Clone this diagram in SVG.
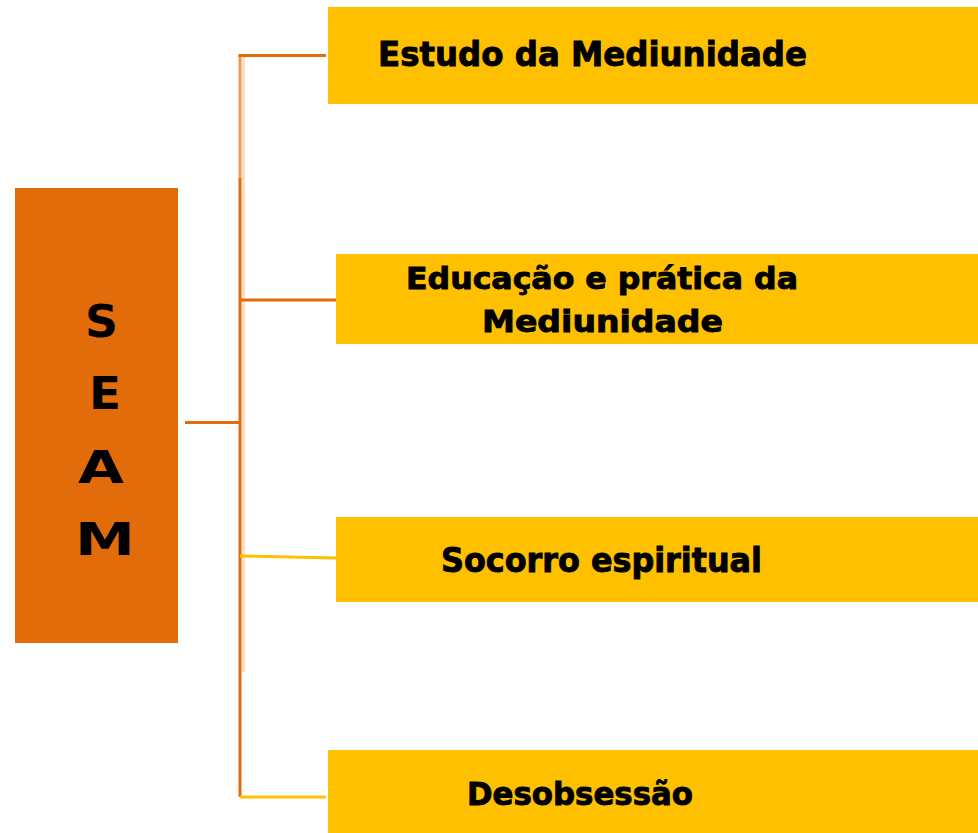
<svg xmlns="http://www.w3.org/2000/svg" width="978" height="833" viewBox="0 0 978 833">
<style>
.box{fill:#FFC000}
.root{fill:#E36C0A}
.t{font-family:"DejaVu Sans",Verdana,sans-serif;font-weight:bold;fill:#000;stroke:#000;stroke-width:0.9}
.s{font-family:"DejaVu Sans",Verdana,sans-serif;font-weight:bold;fill:#000}
.ln{fill:none;stroke-width:3}
</style>
<rect width="978" height="833" fill="#fff"/>
<g id="connectors">
  <line class="ln" x1="243.5" y1="55" x2="243.5" y2="672" stroke="#F8C8A0" stroke-opacity="0.6"/>
  <line class="ln" x1="240" y1="55" x2="240" y2="178" stroke="#EE9A55"/>
  <line class="ln" x1="240" y1="178" x2="240" y2="797" stroke="#E36C0A"/>
  <line class="ln" x1="238.5" y1="55.5" x2="326" y2="55.5" stroke="#E36C0A"/>
  <line class="ln" x1="240" y1="300" x2="337" y2="300" stroke="#E36C0A"/>
  <line class="ln" x1="185" y1="422.5" x2="240" y2="422.5" stroke="#E36C0A"/>
  <line class="ln" x1="240" y1="556" x2="337" y2="558" stroke="#FFC000"/>
  <line class="ln" x1="240" y1="797" x2="326" y2="797" stroke="#FFC000"/>
</g>
<g id="seam">
  <rect class="root" x="15" y="188" width="163" height="455"/>
  <g class="s" font-size="44">
    <text x="85" y="337" textLength="33" lengthAdjust="spacingAndGlyphs">S</text>
    <text x="89" y="409" textLength="32" lengthAdjust="spacingAndGlyphs">E</text>
    <text x="78" y="483" textLength="46" lengthAdjust="spacingAndGlyphs">A</text>
    <text x="75" y="555" textLength="60" lengthAdjust="spacingAndGlyphs">M</text>
  </g>
</g>
<g id="estudo">
  <rect class="box" x="328" y="7" width="650" height="97"/>
  <text class="t" x="378" y="66" font-size="33" textLength="429" lengthAdjust="spacingAndGlyphs">Estudo da Mediunidade</text>
</g>
<g id="educacao">
  <rect class="box" x="336" y="254" width="642" height="90"/>
  <text class="t" x="406" y="289" font-size="30" textLength="392" lengthAdjust="spacingAndGlyphs">Educação e prática da</text>
  <text class="t" x="482" y="332" font-size="31" textLength="241" lengthAdjust="spacingAndGlyphs">Mediunidade</text>
</g>
<g id="socorro">
  <rect class="box" x="336" y="517" width="642" height="85"/>
  <text class="t" x="441" y="572" font-size="33" textLength="321" lengthAdjust="spacingAndGlyphs">Socorro espiritual</text>
</g>
<g id="desobsessao">
  <rect class="box" x="328" y="750" width="650" height="83"/>
  <text class="t" x="467" y="805" font-size="32" textLength="226" lengthAdjust="spacingAndGlyphs">Desobsessão</text>
</g>
</svg>
